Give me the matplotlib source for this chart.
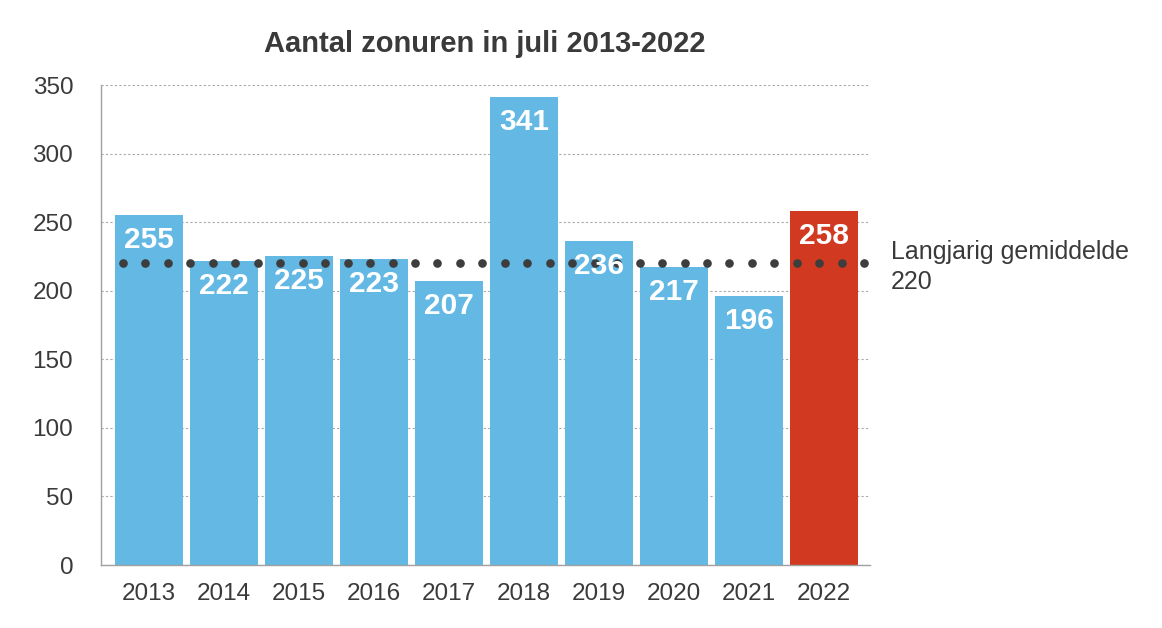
import matplotlib
matplotlib.use("Agg")
import matplotlib.pyplot as plt
import numpy as np

plt.rcParams['font.family'] = ['Liberation Sans', 'DejaVu Sans']

years = ['2013', '2014', '2015', '2016', '2017', '2018', '2019', '2020', '2021', '2022']
hours = [255, 222, 225, 223, 207, 341, 236, 217, 196, 258]
average = 220
yticks = [0, 50, 100, 150, 200, 250, 300, 350]

BLUE = '#63b9e4'
RED = '#d13a21'
TEXT = '#3a3a3a'

fig = plt.figure(figsize=(11.62, 6.28), dpi=100)
ax = fig.add_axes([0.0869, 0.1003, 0.6618, 0.7643])

x = np.arange(len(years))
colors = [BLUE] * (len(years) - 1) + [RED]
ax.bar(x, hours, width=0.907, color=colors, zorder=2)

for xi, h in zip(x, hours):
    ax.annotate(str(h), (xi, h), xytext=(0, -25), textcoords='offset pixels',
                ha='center', va='center', color='white', fontsize=21.5,
                fontweight='bold', zorder=4)

# long-term average as a row of dots
dots_x = np.linspace(-0.347, 9.533, 34)
ax.plot(dots_x, [average] * len(dots_x), linestyle='none', marker='o',
        markersize=5.2, color='#3d3d3d', zorder=3)

ax.annotate('Langjarig gemiddelde\n%d' % average, (1.027, average),
            xycoords=ax.get_yaxis_transform(), xytext=(0, -4),
            textcoords='offset pixels', ha='left', va='center',
            fontsize=18, color=TEXT, linespacing=1.3)

ax.set_xlim(-0.64, 9.61)
ax.set_ylim(0, 350)
ax.set_xticks(x)
ax.set_xticklabels(years)
ax.set_yticks(yticks)
ax.tick_params(axis='both', length=0, labelsize=17.5, colors=TEXT)
ax.tick_params(axis='y', pad=20)
ax.tick_params(axis='x', pad=13)

ax.grid(axis='y', color='#a8a8a8', linestyle=(0, (2, 2)), linewidth=0.8, zorder=0)
ax.set_axisbelow(True)
for side in ['top', 'right']:
    ax.spines[side].set_visible(False)
for side in ['left', 'bottom']:
    ax.spines[side].set_color('#a0a0a0')
    ax.spines[side].set_linewidth(1)

fig.text(0.4175, 0.930, 'Aantal zonuren in juli 2013-2022', ha='center', va='center',
         fontsize=21, fontweight='bold', color=TEXT)

fig.savefig('out.png', dpi=100)
